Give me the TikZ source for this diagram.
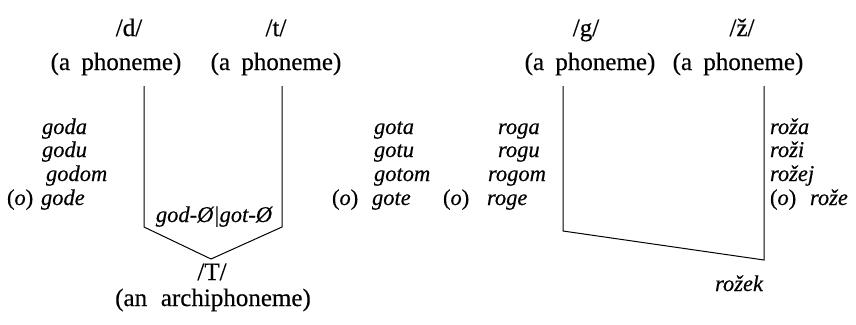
\documentclass[tikz,border=0pt]{standalone}
\usepackage{fontspec}
\setmainfont[FakeBold=0.4]{Liberation Serif}
\begin{document}
\begin{tikzpicture}[x=1pt,y=-1pt,
  every node/.style={inner sep=0pt, outer sep=0pt},
  phon/.style={font=\fontsize{25}{28}\selectfont, anchor=base},
  form/.style={font=\fontsize{22.5}{26}\selectfont\itshape, anchor=base west},
  paren/.style={font=\fontsize{22.5}{26}\selectfont, anchor=base west},
  rule/.style={line width=1pt, line join=miter}]
\useasboundingbox (0,0) rectangle (856,324);

% ---- /d/ and /t/ neutralised to /T/ ----
\node[phon] (d)   at (129,36) {/d/};
\node[phon] (t)   at (276,36) {/t/};
\node[phon] (dph) at (116,70) {(a\hspace{0.45em}phoneme)};
\node[phon] (tph) at (276,70) {(a\hspace{0.45em}phoneme)};

\coordinate (dtop) at (144,86);
\coordinate (dbot) at (144,227);
\coordinate (ttop) at (282,86);
\coordinate (tbot) at (282,227);
\coordinate (apex) at (211,259);
\draw[rule] (dtop) -- (dbot) -- (apex) -- (tbot) -- (ttop);

\node[form, anchor=base] (neut) at (214,222) {god-Ø|got-Ø};
\node[phon] (T)  at (212,280) {/T/};
\node[phon] (Tx) at (213,306) {(an\hspace{0.55em}archiphoneme)};

\node[form] (goda)  at (42,134) {goda};
\node[form] (godu)  at (42,157) {godu};
\node[form] (godom) at (46,181) {godom};
\node[form] (gode)  at (41,205) {gode};
\node[paren] (godo) at (7,205) {(\textit{o})};

\node[form] (gota)  at (374,134) {gota};
\node[form] (gotu)  at (374,157) {gotu};
\node[form] (gotom) at (374,181) {gotom};
\node[form] (gote)  at (372,205) {gote};
\node[paren] (goto) at (332,205) {(\textit{o})};

% ---- /g/ and /ž/ ----
\node[phon] (g)   at (586,36) {/g/};
\node[phon] (zh)  at (742,36) {/ž/};
\node[phon] (gph) at (590,70) {(a\hspace{0.45em}phoneme)};
\node[phon] (zph) at (738,70) {(a\hspace{0.45em}phoneme)};

\coordinate (gtop) at (563,86);
\coordinate (gbot) at (563,231);
\coordinate (ztop) at (764,86);
\coordinate (zbot) at (764,260);
\draw[rule] (gtop) -- (gbot) -- (zbot) -- (ztop);

\node[form] (roga)  at (498,134) {roga};
\node[form] (rogu)  at (498,157) {rogu};
\node[form] (rogom) at (488,181) {rogom};
\node[form] (roge)  at (487,205) {roge};
\node[paren] (rogo) at (443,205) {(\textit{o})};

\node[form] (roza)  at (770,134) {roža};
\node[form] (rozi)  at (770,157) {roži};
\node[form] (rozej) at (770,181) {rožej};
\node[paren] (rozo) at (770,205) {(\textit{o})};
\node[form] (roze)  at (810,205) {rože};

\node[form, anchor=base east] (rozek) at (763,291) {rožek};
\end{tikzpicture}
\end{document}
